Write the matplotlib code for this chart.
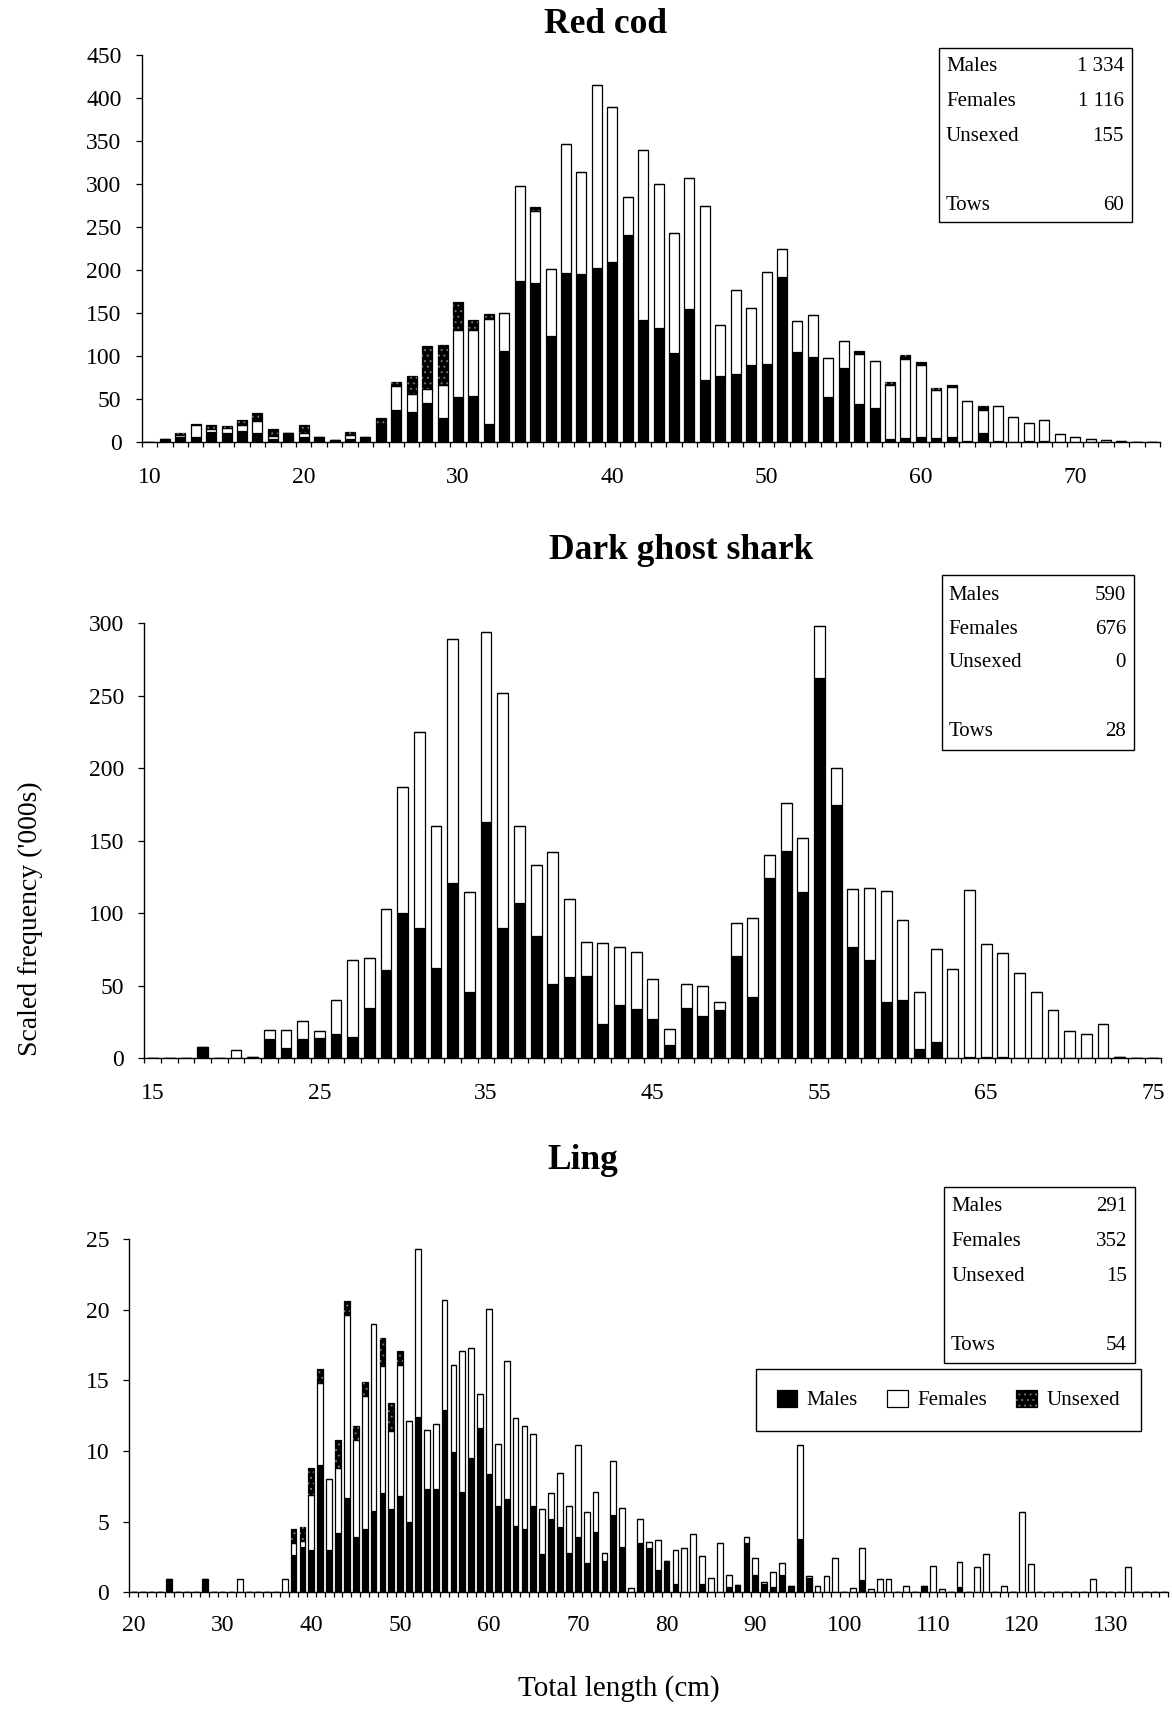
import numpy as np
import matplotlib
matplotlib.use("Agg")
import matplotlib.pyplot as plt
from matplotlib.patches import Rectangle
from matplotlib.legend_handler import HandlerTuple

plt.rcParams['font.family'] = ['Liberation Serif', 'DejaVu Serif']
plt.rcParams['hatch.linewidth'] = 0.7

# ---------------- data (scaled frequency, '000s) ----------------
# Red cod, lengths 10..75 cm
redcod_len = np.arange(10, 76)
redcod_m = [0, 3, 6, 6, 11, 10, 13, 10, 3, 10, 6, 5, 2, 3, 6, 18, 37, 35, 45, 28,
            52, 53, 21, 105, 187, 185, 123, 196, 195, 202, 209, 240, 142, 132, 103,
            154, 72, 77, 79, 89, 91, 192, 104, 99, 52, 86, 44, 39, 3, 4, 5, 4, 5,
            1, 10, 1, 0, 1, 1, 0, 0, 0, 0, 0, 0, 0]
redcod_f = [0, 0, 2, 14, 4, 6, 7, 14, 4, 0, 4, 0, 0, 5, 0, 2, 28, 20, 16, 38,
            78, 77, 122, 45, 110, 84, 78, 151, 119, 213, 181, 45, 197, 168, 140,
            153, 202, 59, 98, 67, 107, 32, 37, 48, 45, 31, 58, 55, 63, 92, 84, 56,
            59, 46, 27, 41, 29, 21, 24, 8.5, 5, 3, 1.5, 1, 0, 0]
redcod_u = [0, 0, 2, 1, 5, 2, 5, 9, 8, 0, 10, 0, 0, 3, 0, 8, 5, 22, 50, 47,
            33, 12, 6, 0, 0, 4, 0, 0, 0, 0, 0, 0, 0, 0, 0, 0, 0, 0, 0, 0, 0, 0, 0,
            0, 0, 0, 3, 0, 4, 5, 4, 3, 2, 0, 4, 0, 0, 0, 0, 0, 0, 0, 0, 0, 0, 0]
redcod_stats = [("Males", "1 334"), ("Females", "1 116"), ("Unsexed", "155"), ("Tows", "60")]

# Dark ghost shark, lengths 15..75 cm
ghost_len = np.arange(15, 76)
ghost_m = [0, 0, 0, 8, 0, 0, 1, 13, 7, 13, 14, 16.5, 14.5, 34.5, 61, 100, 90, 62.5,
           121, 46, 163, 90, 107, 84, 51, 56, 57, 23.5, 37, 34, 27, 9, 35, 29, 33,
           70.5, 42.5, 124, 143, 115, 262, 175, 77, 68, 39, 40, 6.5, 11, 0, 1, 1,
           1, 0, 0, 0, 0, 0, 0, 1.2, 0.5, 0]
ghost_f = [0, 0, 0, 0, 0, 6, 0, 6.5, 12.5, 12.5, 5, 24, 53, 35, 42, 87, 135, 98,
           168, 68.5, 131, 162, 53, 49, 91, 54, 23, 56, 39.5, 39, 28, 11, 16, 21, 6,
           22.5, 54.5, 16, 33, 37, 36, 25, 40, 49.5, 76.5, 55.5, 39, 64.5, 61.5,
           115, 77.5, 71.5, 59, 46, 33, 19, 17, 23.5, 0, 0, 0]
ghost_u = [0] * 61
ghost_stats = [("Males", "590"), ("Females", "676"), ("Unsexed", "0"), ("Tows", "28")]

# Ling, lengths 20..136 cm
ling_len = np.arange(20, 137)
ling_m = [0, 0, 0, 0, 0.95, 0, 0, 0, 0.95, 0,                       # 20-29
          0, 0, 0, 0, 0, 0, 0, 0, 2.64, 3.2,                         # 30-39
          3.0, 9.0, 3.0, 4.2, 6.7, 3.9, 4.5, 5.75, 7.0, 5.9,         # 40-49
          6.8, 5.0, 12.4, 7.3, 7.3, 12.9, 9.9, 7.1, 9.5, 11.6,       # 50-59
          8.35, 6.1, 6.6, 4.7, 4.5, 6.1, 2.7, 5.2, 4.65, 2.8,        # 60-69
          3.9, 2.1, 4.3, 2.2, 5.5, 3.2, 0, 3.5, 3.1, 1.6,            # 70-79
          2.2, 0.6, 0, 0, 0.6, 0, 0, 0.4, 0.5, 3.5,                  # 80-89
          1.2, 0.6, 0.4, 1.2, 0.47, 3.8, 1.0, 0, 0, 0,               # 90-99
          0, 0, 0.87, 0, 0, 0, 0, 0, 0, 0.47,                        # 100-109
          0, 0, 0, 0.35, 0, 0, 0, 0, 0, 0,                           # 110-119
          0, 0, 0, 0, 0, 0, 0, 0, 0, 0,                              # 120-129
          0, 0, 0, 0, 0, 0, 0]                                       # 130-136
ling_f = [0, 0, 0, 0, 0, 0, 0, 0, 0, 0,
          0, 0, 0.95, 0, 0, 0, 0, 0.95, 0.83, 0.4,
          3.9, 5.8, 5.0, 4.6, 12.9, 6.9, 9.4, 13.2, 9.0, 5.5,
          9.3, 7.1, 11.9, 4.2, 4.6, 7.8, 6.2, 10.0, 7.8, 2.4,
          11.7, 4.4, 9.8, 7.6, 7.3, 5.1, 3.2, 1.8, 3.8, 3.3,
          6.5, 3.6, 2.8, 0.6, 3.8, 2.8, 0.3, 1.7, 0.45, 2.1,
          0, 2.4, 3.1, 4.1, 2.0, 1.0, 3.5, 0.8, 0, 0.4,
          1.2, 0.15, 1.06, 0.9, 0, 6.6, 0.15, 0.45, 1.15, 2.45,
          0, 0.3, 2.3, 0.24, 0.92, 0.92, 0, 0.45, 0, 0,
          1.86, 0.24, 0, 1.77, 0, 1.82, 2.7, 0, 0.47, 0,
          5.7, 2.0, 0, 0, 0, 0, 0, 0, 0.92, 0,
          0, 0, 1.82, 0, 0, 0, 0]
ling_u = [0, 0, 0, 0, 0, 0, 0, 0, 0, 0,
          0, 0, 0, 0, 0, 0, 0, 0, 1.0, 1.0,
          1.9, 1.0, 0, 2.0, 1.0, 1.0, 1.0, 0, 2.0, 2.0,
          1.0, 0, 0, 0, 0, 0, 0, 0, 0, 0] + [0] * 77
ling_stats = [("Males", "291"), ("Females", "352"), ("Unsexed", "15"), ("Tows", "54")]

# ---------------- figure ----------------
W, H = 1172, 1710
fig = plt.figure(figsize=(W / 100, H / 100), dpi=100)


def fx(px):
    return px / W


def fy(py):
    return 1 - py / H


def add_panel(left, right, top, bottom):
    return fig.add_axes([fx(left), fy(bottom), (right - left) / W, (bottom - top) / H])


def draw_panel(ax, lengths, males, females, unsexed, ymax, ystep, labels, lpad=18):
    m = np.array(males, dtype=float)
    f = np.array(females, dtype=float)
    u = np.array(unsexed, dtype=float)
    kw = dict(width=0.65, edgecolor='black', linewidth=0.9)
    hm = ax.bar(lengths, m, color='black', **kw)
    hf = ax.bar(lengths, f, bottom=m, color='white', **kw)
    hu = ax.bar(lengths, u, bottom=m + f, color='black', **kw)
    # speckled overlay for the unsexed pattern
    hh = ax.bar(lengths, u, bottom=m + f, width=0.65, color='none',
                edgecolor='0.45', linewidth=0, hatch='...')

    ax.set_xlim(lengths[0] - 0.5, lengths[-1] + 0.5)
    ax.set_ylim(0, ymax)
    for side in ['top', 'right']:
        ax.spines[side].set_visible(False)
    for side in ['left', 'bottom']:
        ax.spines[side].set_linewidth(1.0)
    ax.set_xticks(labels)
    ax.set_xticklabels([str(v) for v in labels])
    ax.set_xticks(np.arange(lengths[0] - 0.5, lengths[-1] + 1.0, 1.0), minor=True)
    ax.tick_params(axis='x', which='major', length=0, pad=lpad, labelsize=17)
    ax.tick_params(axis='x', which='minor', length=3.6, width=0.9, direction='out')
    ax.set_yticks(np.arange(0, ymax + ystep / 2, ystep))
    ax.tick_params(axis='y', length=4.5, width=0.9, direction='out', pad=10, labelsize=17)
    return hm, hf, (hu, hh)


def stats_box(left, top, right, bottom, rows_y, stats):
    fig.add_artist(Rectangle((fx(left), fy(bottom)), (right - left) / W, (bottom - top) / H,
                             transform=fig.transFigure, fill=False,
                             edgecolor='black', linewidth=1.0))
    for y, (lab, val) in zip(rows_y, stats):
        fig.text(fx(left + 7), fy(y), lab, ha='left', va='center', fontsize=15)
        fig.text(fx(right - 8), fy(y), val, ha='right', va='center', fontsize=15)


# Red cod
ax1 = add_panel(141.7, 1160, 55, 441.7)
draw_panel(ax1, redcod_len, redcod_m, redcod_f, redcod_u, 450, 50,
           [10, 20, 30, 40, 50, 60, 70])
fig.text(fx(606), fy(33), "Red cod", ha='center', va='baseline', fontsize=25.5, weight='bold')
stats_box(939, 48, 1132, 222, [66.7, 101.7, 136.7, 205.7], redcod_stats)

# Dark ghost shark
ax2 = add_panel(144.3, 1161.3, 623.3, 1058.3)
draw_panel(ax2, ghost_len, ghost_m, ghost_f, ghost_u, 300, 50,
           [15, 25, 35, 45, 55, 65, 75])
fig.text(fx(681), fy(559), "Dark ghost shark", ha='center', va='baseline', fontsize=25.5, weight='bold')
stats_box(941.7, 575, 1134, 750, [595, 629, 662.7, 731.7], ghost_stats)

# Ling
ax3 = add_panel(129.3, 1168.3, 1239, 1592.3)
hm, hf, hu = draw_panel(ax3, ling_len, ling_m, ling_f, ling_u, 25, 5,
                        [20, 30, 40, 50, 60, 70, 80, 90, 100, 110, 120, 130], lpad=16)
fig.text(fx(583), fy(1169), "Ling", ha='center', va='baseline', fontsize=25.5, weight='bold')
stats_box(944, 1187, 1135, 1362.7, [1206.7, 1241, 1276, 1345], ling_stats)

leg = ax3.legend([hm, hf, hu], ["Males", "Females", "Unsexed"],
                 handler_map={tuple: HandlerTuple(ndivide=1)},
                 ncol=3, loc='center', mode='expand',
                 bbox_to_anchor=(fx(755.7), fy(1434), (1140.7 - 755.7) / W, 68 / H),
                 bbox_transform=fig.transFigure, borderaxespad=0,
                 frameon=True, fancybox=False, framealpha=1, edgecolor='black',
                 fontsize=15, handlelength=1.0, handleheight=0.9,
                 handletextpad=0.45, borderpad=1.0, columnspacing=1.2)
leg.get_frame().set_linewidth(1.0)

fig.text(fx(30.5), fy(919), "Scaled frequency ('000s)", rotation=90,
         ha='center', va='center', fontsize=20)
fig.text(fx(619), fy(1689), "Total length (cm)", ha='center', va='center', fontsize=21)

fig.savefig("out.png", dpi=100)
